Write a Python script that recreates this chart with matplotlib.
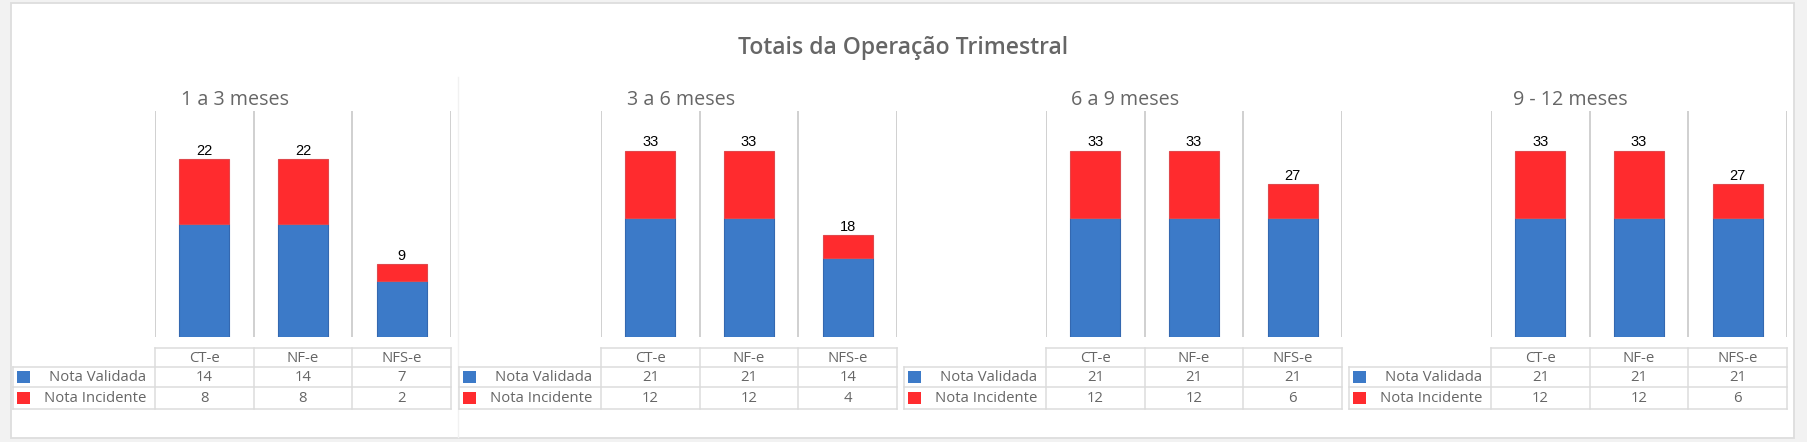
import matplotlib
matplotlib.use("Agg")
import matplotlib.pyplot as plt
from matplotlib.patches import Rectangle
from matplotlib.lines import Line2D

# ---------------- data ----------------
title = "Totais da Operação Trimestral"
panel_titles = ["1 a 3 meses", "3 a 6 meses", "6 a 9 meses", "9 - 12 meses"]
categories = ["CT-e", "NF-e", "NFS-e"]
series_names = ["Nota Validada", "Nota Incidente"]
validada = [[14, 14, 7], [21, 21, 14], [21, 21, 21], [21, 21, 21]]
incidente = [[8, 8, 2], [12, 12, 4], [12, 12, 6], [12, 12, 6]]
y_max = [28, 40, 40, 40]

# ---------------- style ----------------
W, H = 1808, 442
BLUE = "#3C7AC8"
RED = "#FF2B2E"
BLUE_EDGE = "#3468B0"
RED_EDGE = "#E0484C"
GRID = "#C8C8C8"
TBL = "#DCDCDC"
TXT = "#666666"
FONT = ["Open Sans", "DejaVu Sans"]
NUMFONT = ["Liberation Sans", "DejaVu Sans"]

fig = plt.figure(figsize=(W / 100, H / 100), dpi=100)
fig.patch.set_facecolor("#F2F2F2")

# overlay axes in pixel coordinates (y downwards)
ov = fig.add_axes([0, 0, 1, 1])
ov.set_xlim(0, W)
ov.set_ylim(H, 0)
ov.axis("off")
ov.add_patch(Rectangle((11, 3), 1783, 435, facecolor="white", edgecolor="#DDDDDD", lw=1.3, zorder=0))
ov.add_line(Line2D([458, 458], [77, 437], color="#F1F1F1", lw=1.0, zorder=1))

ov.text(903, 48, title, ha="center", va="center", fontsize=16.5, fontweight="semibold",
        color=TXT, family=FONT)

plot_left = [155, 601, 1046, 1491]
title_x = [181, 627, 1071, 1513]
PW = 296
TOP, BOT = 111, 337
slot = PW / len(categories)

for p in range(4):
    L = plot_left[p]
    ax = fig.add_axes([L / W, 1 - BOT / H, PW / W, (BOT - TOP) / H])
    ax.set_xlim(-0.5, len(categories) - 0.5)
    ax.set_ylim(0, y_max[p])
    ax.axis("off")
    xs = list(range(len(categories)))
    ax.bar(xs, validada[p], width=0.51, color=BLUE, edgecolor=BLUE_EDGE, lw=0.8, zorder=2)
    totals = [v + i for v, i in zip(validada[p], incidente[p])]
    ax.bar(xs, incidente[p], bottom=validada[p], width=0.51, color=RED,
           edgecolor=RED_EDGE, lw=0.8, zorder=2)
    for k in range(len(categories) + 1):
        ax.axvline(k - 0.5, color=GRID, lw=1.2, zorder=1)
    for x, t in zip(xs, totals):
        ax.annotate(str(t), (x, t), xytext=(0, 1.2), textcoords="offset points",
                    ha="center", va="bottom", fontsize=10.5, color="black", family=NUMFONT)

    ov.text(title_x[p], 100, panel_titles[p], ha="left", va="center", fontsize=14.2,
            color=TXT, family=FONT)

    # ---- table ----
    left = L - 142
    right = L + PW
    hdr_top, r1, r2, r3 = 348, 367, 387, 409
    ov.add_line(Line2D([L, right], [hdr_top, hdr_top], color=TBL, lw=1.1))
    for yline in (r1, r2, r3):
        ov.add_line(Line2D([left, right], [yline, yline], color=TBL, lw=1.1))
    ov.add_line(Line2D([left, left], [r1, r3], color=TBL, lw=1.1))
    for k in range(len(categories) + 1):
        xl = L + k * slot
        ov.add_line(Line2D([xl, xl], [hdr_top, r3], color=TBL, lw=1.1))
    for k, c in enumerate(categories):
        ov.text(L + (k + 0.5) * slot, (hdr_top + r1) / 2 + 0.5, c, ha="center", va="center",
                fontsize=10.7, color=TXT, family=FONT)
    rows = [(r1, r2, validada[p], BLUE), (r2, r3, incidente[p], RED)]
    for (ya, yb, vals, col), name in zip(rows, series_names):
        yc = (ya + yb) / 2
        ov.add_patch(Rectangle((left + 4, yc - 6), 13, 12, facecolor=col, edgecolor="none"))
        ov.text(L - 9, yc + 0.5, name, ha="right", va="center", fontsize=10.7,
                color=TXT, family=FONT)
        for k, v in enumerate(vals):
            ov.text(L + (k + 0.5) * slot, yc + 0.5, str(v), ha="center", va="center",
                    fontsize=10.7, color=TXT, family=FONT)

fig.savefig("out.png", dpi=100, facecolor=fig.get_facecolor())
